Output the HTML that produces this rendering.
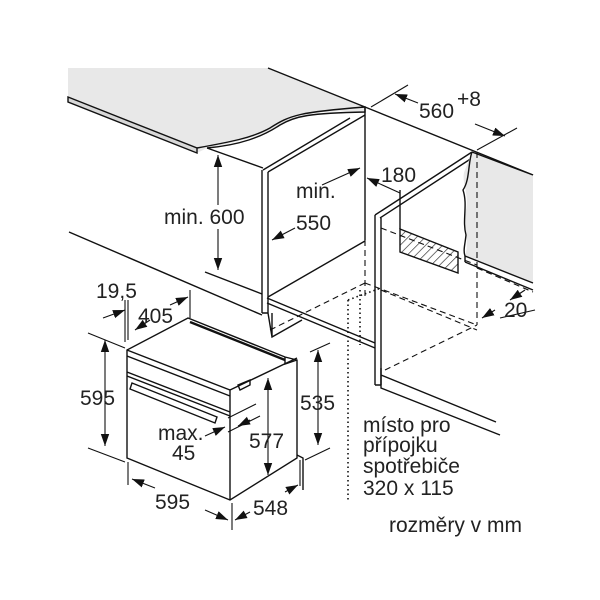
<!DOCTYPE html>
<html><head><meta charset="utf-8"><style>
html,body{margin:0;padding:0;background:#fff;}
svg{display:block;}
text{font-family:"Liberation Sans",Arial,sans-serif;fill:#222;font-size:21px;}
</style></head><body>
<svg width="600" height="600" viewBox="0 0 600 600" xmlns="http://www.w3.org/2000/svg">
<defs>
<marker id="a" viewBox="0 0 10 10" refX="10" refY="5" markerWidth="11" markerHeight="11" orient="auto-start-reverse"><path d="M0,1.5 L10,5 L0,8.5 z" fill="#111"/></marker>
<pattern id="h" width="6" height="6" patternUnits="userSpaceOnUse" patternTransform="rotate(45)"><line x1="0" y1="0" x2="0" y2="6" stroke="#222" stroke-width="1.3"/></pattern>
</defs>
<g stroke="#111" stroke-width="1.4" fill="none">
<path d="M68,68 L268,68 L365,107 L365,112 C330,110 310,112 290,120 C270,132 250,140 207,148 L197,153 L68,102 Z" fill="#e8e8e8" stroke="none"/>
<path d="M268,68 L365,107"/>
<path d="M68,97 L197,148 L197,153 L68,102 Z" fill="#d8d8d8"/>
<path d="M197,148 C230,142 252,138 270,128 C290,115 300,112 365,107 L365,112 C310,113 295,116 280,125 C262,137 240,145 207,148"/>
<path d="M365,107 L533,175"/>
<path d="M207,148 L263,168"/>
<path d="M263,170 L350,118 M268,172 L365,115"/>
<path d="M262,170 L262,313 M268,172 L268,313 M262,313 L268,313"/>
<path d="M365,107 L365,240"/>
<path d="M268,297 L365,241"/>
<path d="M267,298 L375,343 M267,303 L375,348"/>
<path d="M268,313 L272,337 L302,320 M272,313 L272,337"/>
<path d="M69,232 L262,315"/>
<path d="M205,272 L262,294"/>
<path d="M375,215 L472,152 M380,218 L472,158"/>
<path d="M375,215 L375,385 M381,218 L381,385 M375,385 L381,385"/>
<path d="M381,368 L381,388 L500,435 M381,375 L496,422"/>
<path d="M472,152 L533,175 L533,283 L465,256 C470,240 463,225 466,210 C470,195 460,180 465,170 C468,162 470,158 472,152 Z" fill="#e8e8e8" stroke="none"/>
<path d="M472,152 C468,162 470,180 463,190 C468,205 462,220 466,235 C465,245 463,250 465,256"/>
<path d="M465,256 L533,283 M465,262 L533,290 M465,256 L465,262" />
<path d="M472,152 L533,175"/>
<path d="M400,229 L458,252 L458,273 L400,252 Z" fill="url(#h)"/>
<path d="M400,190 L400,229"/>
<g stroke-dasharray="6,4" stroke-width="1.1">
<path d="M477,152 L477,325"/>
<path d="M381,228 L477,265"/>
<path d="M365,240 L365,300"/>
<path d="M365,283 L477,325"/>
<path d="M270,330 L365,283"/>
<path d="M385,370 L477,325"/>
<path d="M381,290 L477,330"/>
<path d="M477,268 L533,292"/>
</g>
<g stroke-dasharray="1.5,3" stroke-width="1.6">
<path d="M348,300 L348,500"/>
<path d="M348,300 L381,288"/>
<path d="M360,290 L360,345"/>
</g>
<path d="M127,350 L188,318 L285,357 L297,360 L297,458 L230,500 L127,458 Z" fill="#fff"/>
<path d="M127,350 L230,390 L297,358 M230,390 L230,500"/>
<path d="M127,356 L230,396"/>
<path d="M127,372 L230,412 M127,376 L230,416"/>
<path d="M132,383 L217,417 L215,423 L130,389 Z"/>
<path d="M190,322 L285,360" stroke-width="2.4"/>
<path d="M285,357 L285,364 L297,360"/>
<path d="M238,385 L250,380 L250,385 L240,390 Z"/>
<path d="M297,455 L303,458 L303,490"/>
</g>
<g stroke="#111" stroke-width="1.1" fill="none">
<path d="M218,155 L218,270" marker-start="url(#a)" marker-end="url(#a)"/>
<path d="M322,185 L360,168" marker-end="url(#a)"/>
<path d="M295,228 L272,240" marker-end="url(#a)"/>
<path d="M367,178 L400,193" marker-start="url(#a)"/>
<path d="M371,107 L408,85 M477,150 L517,128"/>
<path d="M395,94 L418,103" marker-start="url(#a)"/>
<path d="M475,124 L505,136" marker-end="url(#a)"/>
<path d="M495,310 L482,318" marker-end="url(#a)"/>
<path d="M525,290 L510,300" marker-end="url(#a)"/>
<path d="M500,318 L535,310"/>
<path d="M103,318 L125,310" marker-end="url(#a)"/>
<path d="M128,300 L128,340 M125,300 L125,342"/>
<path d="M135,330 L150,320" marker-start="url(#a)"/>
<path d="M170,305 L188,297" marker-end="url(#a)"/>
<path d="M190,290 L190,318"/>
<path d="M88,333 L125,348 M88,448 L125,462"/>
<path d="M105,340 L105,446" marker-start="url(#a)" marker-end="url(#a)"/>
<path d="M128,462 L128,485 M232,503 L232,530 M300,460 L300,486"/>
<path d="M132,479 L155,488" marker-start="url(#a)"/>
<path d="M205,510 L228,520" marker-end="url(#a)"/>
<path d="M235,520 L250,512" marker-start="url(#a)"/>
<path d="M285,492 L298,485" marker-end="url(#a)"/>
<path d="M268,378 L268,475" marker-start="url(#a)" marker-end="url(#a)"/>
<path d="M310,352 L330,343 M305,460 L330,448"/>
<path d="M318,350 L318,445" marker-start="url(#a)" marker-end="url(#a)"/>
<path d="M205,436 L225,427" marker-end="url(#a)"/>
<path d="M228,418 L256,404 M228,432 L260,416"/>
<path d="M238,426 L250,420" marker-start="url(#a)"/>
</g>
<rect x="162" y="205" width="86" height="24" fill="#fff"/>
<text x="419" y="118">560</text><text x="457" y="106" font-size="14">+8</text>
<text x="164" y="224">min. 600</text>
<text x="296" y="198">min.</text>
<text x="296" y="230">550</text>
<text x="381" y="182">180</text>
<text x="504" y="317">20</text>
<text x="96" y="298">19,5</text>
<text x="138" y="323">405</text>
<text x="80" y="405">595</text>
<text x="300" y="410">535</text>
<text x="249" y="448">577</text>
<text x="158" y="440">max.</text>
<text x="172" y="460">45</text>
<text x="155" y="509">595</text>
<text x="253" y="515">548</text>
<text x="363" y="432">místo pro</text>
<text x="363" y="452">přípojku</text>
<text x="363" y="473">spotřebiče</text>
<text x="363" y="495">320 x 115</text>
<text x="389" y="532">rozměry v mm</text>
</svg>
</body></html>
